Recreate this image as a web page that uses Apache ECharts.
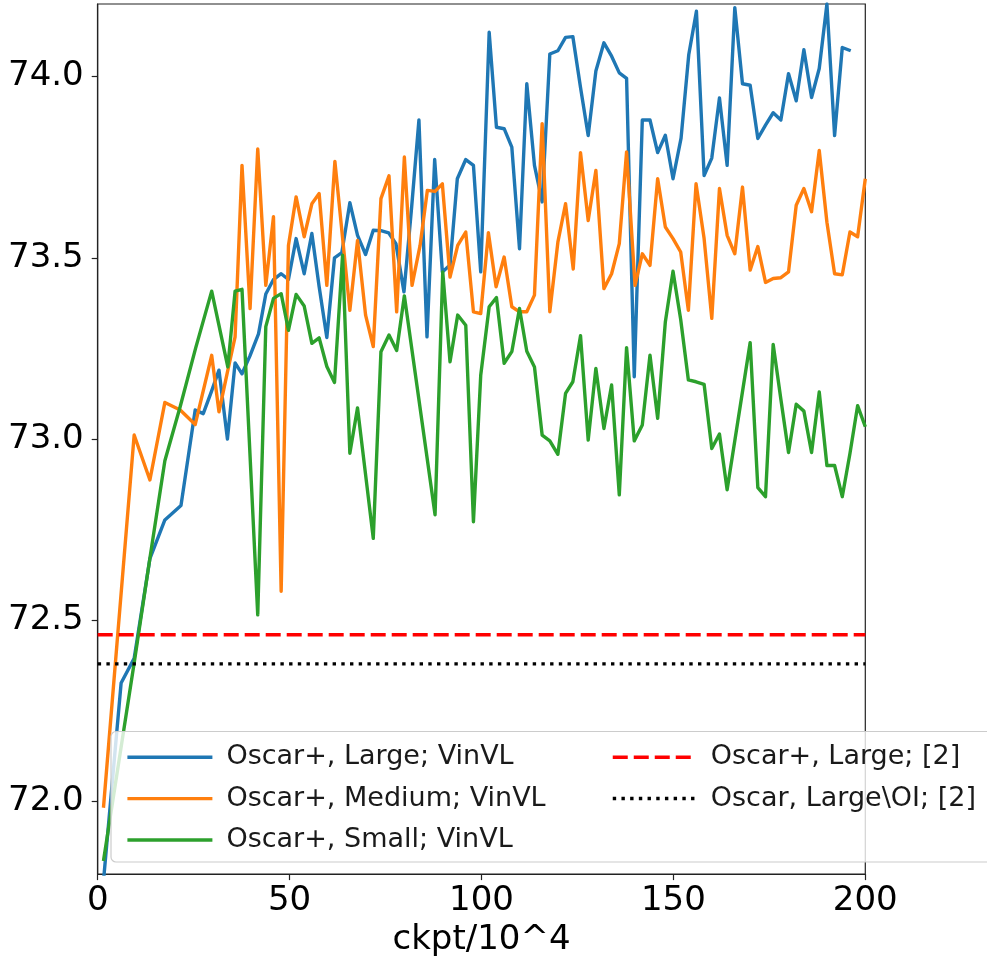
<!DOCTYPE html>
<html>
<head>
<meta charset="utf-8">
<script src="https://cdn.jsdelivr.net/npm/echarts@6/dist/echarts.min.js"></script>
<style>
html,body{margin:0;padding:0;background:#fff;}
#chart{width:987px;height:962px;}
</style>
</head>
<body>
<div id="chart"></div>
<script>
// ---- data ----
const seriesNames = ['Oscar+, Large; VinVL', 'Oscar+, Medium; VinVL', 'Oscar+, Small; VinVL', 'Oscar+, Large; [2]', 'Oscar, Large\\OI; [2]'];
const yTicks = [72.0, 72.5, 73.0, 73.5, 74.0];
const xTicks = [0, 50, 100, 150, 200];

const largeX = [1.5,6.1,9.5,13.6,17.5,21.7,25.4,27.5,29.6,31.6,33.8,35.8,37.6,39.7,41.9,43.8,45.8,47.8,49.7,51.7,53.8,55.8,57.7,59.7,61.7,63.6,65.7,67.7,69.8,71.8,73.8,75.8,77.7,79.8,81.8,83.7,85.8,87.8,89.8,91.8,93.7,95.9,97.9,99.8,102.0,103.9,105.9,107.9,109.9,111.8,113.8,115.8,117.8,119.9,121.9,123.8,125.8,127.8,129.8,131.9,133.9,135.9,137.8,139.8,141.9,143.9,145.9,147.9,149.9,152,154,156,158,160,162,164,166,168,170,172,174,176,178,180,182,184,186,188,190,192,194,196.2];
const largeY = [71.78,72.327,72.395,72.67,72.777,72.817,73.08,73.07,73.13,73.19,73.0,73.21,73.18,73.23,73.29,73.40,73.44,73.456,73.44,73.553,73.456,73.567,73.42,73.28,73.50,73.514,73.652,73.562,73.509,73.576,73.575,73.569,73.539,73.406,73.64,73.88,73.282,73.771,73.461,73.48,73.718,73.771,73.755,73.461,74.122,73.86,73.856,73.805,73.525,73.98,73.755,73.654,74.062,74.071,74.108,74.11,73.97,73.837,74.015,74.093,74.056,74.01,73.995,73.172,73.88,73.88,73.79,73.838,73.718,73.83,74.06,74.18,73.727,73.775,73.941,73.755,74.19,73.98,73.976,73.829,73.866,73.9,73.88,74.008,73.933,74.074,73.942,74.022,74.20,73.837,74.08,74.071];

const mediumX = [1.5,9.5,13.6,17.5,21.5,25.4,29.7,31.6,33.7,35.8,37.6,39.7,41.7,43.8,45.8,47.8,49.7,51.7,53.8,55.8,57.7,59.7,61.8,65.7,67.7,69.8,71.8,73.8,75.9,77.9,79.9,81.9,84,85.9,87.9,89.8,91.8,93.8,95.9,97.9,99.8,101.8,103.8,105.9,107.9,109.9,111.8,113.8,115.8,117.8,119.9,121.9,123.9,125.8,127.8,129.8,131.9,133.9,135.9,137.8,140,141.9,143.9,145.9,147.9,149.9,151.9,153.9,155.9,158,160,162,164,166,168,170,172,174,176,178,180,182,184,186,188,190,192,194,196,198,200];
const mediumY = [71.983,73.011,72.887,73.101,73.08,73.04,73.231,73.075,73.18,73.282,73.755,73.36,73.80,73.424,73.613,72.58,73.534,73.668,73.558,73.649,73.677,73.424,73.766,73.355,73.548,73.342,73.255,73.663,73.726,73.351,73.778,73.424,73.534,73.686,73.683,73.704,73.447,73.534,73.571,73.351,73.346,73.569,73.42,73.502,73.365,73.351,73.351,73.397,73.87,73.351,73.543,73.649,73.469,73.79,73.603,73.741,73.415,73.456,73.539,73.792,73.424,73.511,73.479,73.718,73.585,73.553,73.516,73.355,73.704,73.553,73.333,73.691,73.562,73.511,73.695,73.466,73.531,73.432,73.443,73.445,73.461,73.645,73.691,73.627,73.796,73.598,73.456,73.453,73.571,73.558,73.718];

const smallX = [1.5,9.5,13.6,17.5,21.5,25.5,29.7,33.9,35.8,37.6,41.7,43.8,45.8,47.8,49.7,51.7,53.8,55.8,57.7,59.7,61.7,63.8,65.7,67.7,71.8,73.8,75.9,77.9,79.9,87.9,89.9,91.8,93.8,95.9,97.9,99.8,102,103.9,105.9,107.9,109.9,111.8,113.8,115.8,117.8,119.9,121.9,123.8,125.8,127.8,129.8,131.9,133.9,135.9,137.8,139.8,141.9,143.9,145.9,147.9,149.9,151.9,153.9,155.9,158,160,162,164,170,172,174,176,178,180,182,184,186,188,190,192,194,196,198,200];
const smallY = [71.836,72.382,72.671,72.94,73.09,73.25,73.408,73.199,73.408,73.413,72.515,73.31,73.388,73.401,73.30,73.399,73.367,73.264,73.279,73.20,73.156,73.507,72.961,73.086,72.726,73.241,73.287,73.244,73.395,72.791,73.461,73.213,73.342,73.314,72.772,73.176,73.365,73.39,73.209,73.241,73.36,73.242,73.199,73.011,72.995,72.958,73.126,73.158,73.285,72.997,73.195,73.029,73.149,72.846,73.252,72.995,73.039,73.231,73.057,73.323,73.463,73.33,73.163,73.158,73.151,72.974,73.014,72.86,73.266,72.866,72.841,73.261,73.11,72.963,73.096,73.077,72.963,73.13,72.927,72.927,72.841,72.96,73.092,73.034];

const refLargeX = [0, 200];
const refLargeY = [72.46, 72.46];
const refOscarX = [0, 200];
const refOscarY = [72.38, 72.38];

const colors = ['#1f77b4', '#ff7f0e', '#2ca02c', '#ff0000', '#000000'];

function pairs(xs, ys) { return xs.map((x, i) => [x, ys[i]]); }

const FONT = 'DejaVu Sans';
const chart = echarts.init(document.getElementById('chart'), null, {renderer: 'canvas'});

function mkLine(name, data, color, width, type) {
  return {
    name: name, type: 'line', data: data, showSymbol: false, symbol: 'none',
    clip: true, animation: false,
    lineStyle: {color: color, width: width, type: type || 'solid', cap: 'butt', join: 'round'},
    itemStyle: {color: color},
    emphasis: {disabled: true}
  };
}

const legendCommon = {
  orient: 'vertical', top: 731.5, itemHeight: 2, itemGap: 0, z: 200,
  itemStyle: {opacity: 0},
  selectedMode: false
};

const option = {
  animation: false,
  backgroundColor: '#ffffff',
  grid: {left: 97.7, right: 121.7, top: 4, bottom: 85.3, show: true, borderColor: '#222', borderWidth: 1.2, containLabel: false, z: 0},
  xAxis: {
    type: 'value', min: 0, max: 200, interval: 50,
    axisLine: {show: true, onZero: false, lineStyle: {color: '#222', width: 1.2}},
    axisTick: {show: true, length: 6, lineStyle: {color: '#222', width: 1.2}},
    axisLabel: {color: '#000', fontSize: 34, fontFamily: FONT, margin: 10, customValues: xTicks},
    splitLine: {show: false},
    name: 'ckpt/10^4', nameLocation: 'middle', nameGap: 47,
    nameTextStyle: {color: '#000', fontSize: 34, fontFamily: FONT}
  },
  yAxis: {
    type: 'value', min: 71.8, max: 74.2,
    axisLine: {show: true, onZero: false, lineStyle: {color: '#222', width: 1.2}},
    axisTick: {show: true, length: 6, lineStyle: {color: '#222', width: 1.2}, customValues: yTicks},
    axisLabel: {color: '#000', fontSize: 34, fontFamily: FONT, margin: 14, customValues: yTicks,
      formatter: v => Number(v).toFixed(1)},
    splitLine: {show: false}
  },
  graphic: [{
    type: 'rect', z: 100, silent: true,
    shape: {x: 111, y: 731.5, width: 900, height: 130.5, r: 5},
    style: {fill: 'rgba(255,255,255,0.8)', stroke: '#cccccc', lineWidth: 1.2}
  }],
  legend: [Object.assign({}, legendCommon, {
    data: seriesNames.slice(0, 3), left: 120.7, itemWidth: 85,
    lineStyle: {width: 3.4},
    textStyle: {fontSize: 27, fontFamily: FONT, color: '#1a1a1a', lineHeight: 41.4, padding: [0, 0, 0, 9]}
  }), Object.assign({}, legendCommon, {
    data: seriesNames.slice(3), left: 606, itemWidth: 82,
    lineStyle: {width: 3.5},
    textStyle: {fontSize: 27, fontFamily: FONT, color: '#1a1a1a', lineHeight: 41.4, padding: [0, 0, 0, 11]}
  })],
  series: [
    mkLine(seriesNames[0], pairs(largeX, largeY), colors[0], 3.4),
    mkLine(seriesNames[1], pairs(mediumX, mediumY), colors[1], 3.4),
    mkLine(seriesNames[2], pairs(smallX, smallY), colors[2], 3.4),
    mkLine(seriesNames[3], pairs(refLargeX, refLargeY), colors[3], 3.6, [15, 6]),
    mkLine(seriesNames[4], pairs(refOscarX, refOscarY), colors[4], 3.4, [3.4, 5.3])
  ]
};
chart.setOption(option);
</script>
</body>
</html>
